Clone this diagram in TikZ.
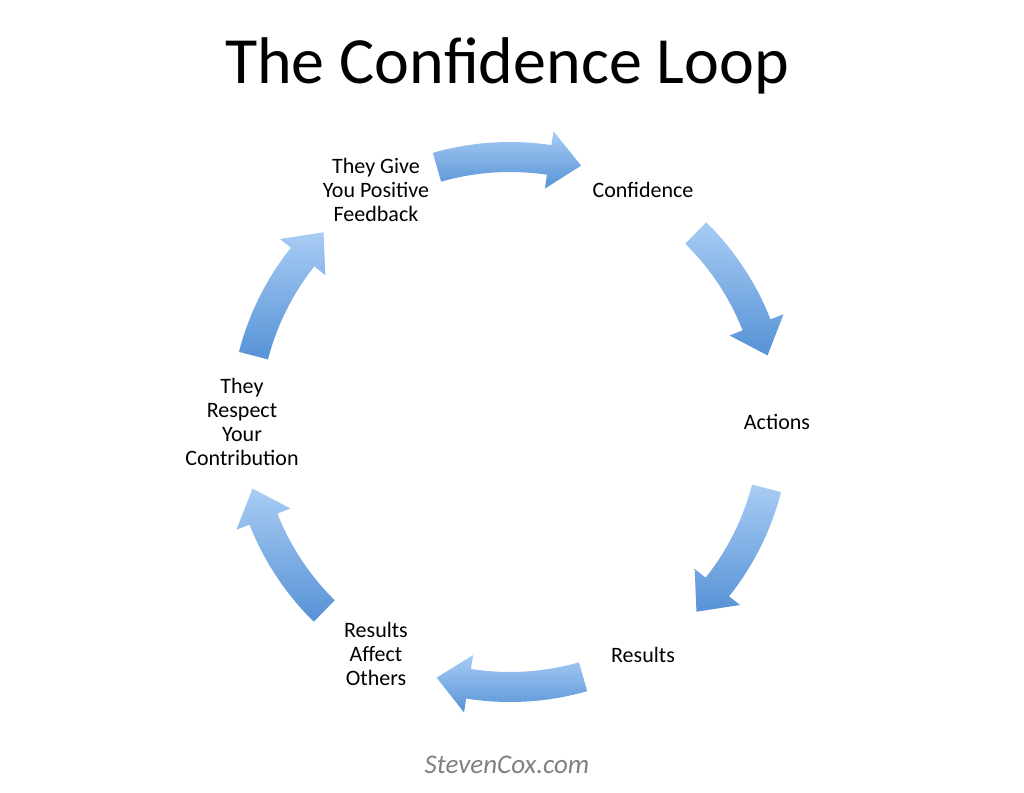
\documentclass[tikz,border=0pt]{standalone}
\usepackage{fontspec}
\setmainfont{Carlito}
\usetikzlibrary{calc}
\definecolor{arrlight}{RGB}{168,204,244}
\definecolor{arrdark}{RGB}{86,146,214}
\definecolor{footgray}{RGB}{128,128,128}
\newcommand{\loopArrow}[2]{%
  \pgfmathsetmacro{\hA}{#2+7}%
  \path[arrowfill]
    ($(C)+(#1:280pt)$) arc[start angle=#1,end angle=\hA,radius=280pt]
    -- ($(C)+(\hA:294pt)$) -- ($(C)+(#2:266pt)$) -- ($(C)+(\hA:236pt)$)
    -- ($(C)+(\hA:250pt)$) arc[start angle=\hA,end angle=#1,radius=250pt] -- cycle;}
\begin{document}
\begin{tikzpicture}[x=1pt,y=1pt,
  arrowfill/.style={top color=arrlight,bottom color=arrdark},
  lbl/.style={align=center,font=\fontsize{22}{24}\selectfont,inner sep=0pt}]
\path[use as bounding box] (0,0) rectangle (1024,792);
\coordinate (C) at (510,370);
\node[anchor=base,font=\fontsize{66}{78}\selectfont] (title) at (507,708) {The Confidence Loop};
\loopArrow{106}{74.5}
\loopArrow{45.5}{14.5}
\loopArrow{-14.5}{-45.5}
\loopArrow{-74}{-106}
\loopArrow{-134.5}{-165.5}
\loopArrow{165.5}{134.5}
\node[lbl] (fb) at (376,602) {They Give\\You Positive\\Feedback};
\node[lbl] (conf) at (643,602) {Confidence};
\node[lbl] (act) at (777,370) {Actions};
\node[lbl] (res) at (643,137) {Results};
\node[lbl] (raf) at (376,138) {Results\\Affect\\Others};
\node[lbl] (resp) at (242,370) {They\\Respect\\Your\\Contribution};
\node[font=\fontsize{27}{30}\selectfont\itshape,text=footgray] (foot) at (507,27) {StevenCox.com};
\end{tikzpicture}
\end{document}
